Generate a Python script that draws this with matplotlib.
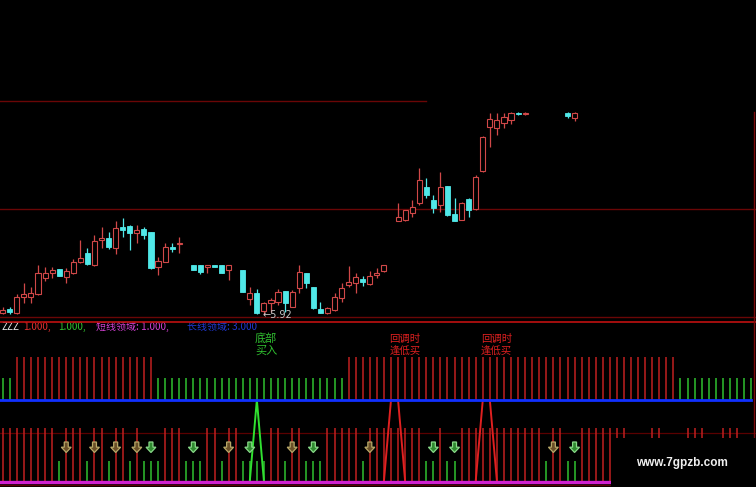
import matplotlib
matplotlib.use("Agg")
import matplotlib.pyplot as plt
from matplotlib.patches import Rectangle, Polygon
from matplotlib.lines import Line2D
import numpy as np

# ---------------- data ----------------
nan = np.nan
# candle OHLC (index = trading day), NaN where no candle is visible
opens = [5.94, 5.98, 5.94, 6.10, 6.10, 6.13, 6.29, 6.34, 6.38, 6.30,
         6.34, 6.45, 6.54, 6.42, 6.67, 6.69, 6.59, 6.80, 6.81, 6.74,
         6.78, 6.75, 6.40, 6.45, 6.60, 6.63, nan, 6.42, 6.42, 6.40,
         6.42, 6.42, 6.37, nan, 6.37, 6.08, 6.14, 5.96, 6.04, 6.05,
         6.16, 6.00, 6.19, 6.34, 6.20, 5.98, 5.94, 5.97, 6.09, 6.22,
         6.24, 6.28, 6.23, 6.32, 6.36, nan, 6.86, 6.87, 6.94, 7.04,
         7.20, 7.07, 7.02, 7.21, 6.93, 6.87, 7.08, 6.98, 7.36, 7.80,
         7.79, 7.84, 7.87, 7.94, 7.93, nan, nan, nan, nan, nan,
         7.94, 7.89]
highs = [6.00, 6.00, 6.13, 6.24, 6.20, 6.42, 6.40, 6.40, 6.38, 6.39,
         6.48, 6.67, 6.59, 6.72, 6.80, 6.75, 6.86, 6.89, 6.82, 6.82,
         6.80, 6.75, 6.50, 6.64, 6.64, 6.70, nan, 6.42, 6.42, 6.42,
         6.42, 6.42, 6.42, nan, 6.37, 6.20, 6.18, 6.05, 6.09, 6.18,
         6.16, 6.17, 6.42, 6.34, 6.20, 6.05, 6.00, 6.14, 6.24, 6.41,
         6.34, 6.31, 6.36, 6.39, 6.42, nan, 7.04, 6.97, 7.07, 7.39,
         7.29, 7.12, 7.35, 7.21, 7.09, 7.05, 7.09, 7.32, 7.71, 7.94,
         7.94, 7.94, 7.95, 7.95, 7.95, nan, nan, nan, nan, nan,
         7.95, 7.95]
lows = [5.93, 5.93, 5.93, 6.04, 6.04, 6.12, 6.26, 6.29, 6.31, 6.24,
        6.33, 6.44, 6.42, 6.41, 6.59, 6.58, 6.53, 6.70, 6.57, 6.64,
        6.68, 6.38, 6.32, 6.45, 6.55, 6.54, nan, 6.37, 6.33, 6.34,
        6.40, 6.34, 6.27, nan, 6.15, 6.02, 5.93, 5.92, 5.95, 6.02,
        5.95, 6.00, 6.14, 6.19, 5.98, 5.94, 5.93, 5.96, 6.05, 6.20,
        6.14, 6.21, 6.22, 6.29, 6.35, nan, 6.86, 6.86, 6.90, 7.02,
        7.09, 6.94, 6.95, 6.91, 6.86, 6.87, 6.90, 6.97, 7.35, 7.60,
        7.72, 7.79, 7.83, 7.92, 7.92, nan, nan, nan, nan, nan,
        7.89, 7.86]
closes = [5.97, 5.95, 6.10, 6.13, 6.14, 6.34, 6.34, 6.37, 6.31, 6.36,
          6.45, 6.49, 6.43, 6.66, 6.69, 6.60, 6.79, 6.77, 6.74, 6.77,
          6.72, 6.39, 6.46, 6.60, 6.58, 6.64, nan, 6.37, 6.35, 6.42,
          6.40, 6.34, 6.42, nan, 6.15, 6.14, 5.94, 6.04, 6.07, 6.15,
          6.04, 6.15, 6.35, 6.24, 5.99, 5.94, 5.99, 6.10, 6.19, 6.25,
          6.30, 6.25, 6.31, 6.34, 6.42, nan, 6.90, 6.97, 7.00, 7.27,
          7.12, 6.99, 7.20, 6.92, 6.86, 7.04, 6.97, 7.30, 7.70, 7.88,
          7.87, 7.90, 7.94, 7.93, 7.94, nan, nan, nan, nan, nan,
          7.91, 7.94]

level_prices = [8.06, 6.98, 5.90]          # horizontal reference lines

# indicator sticks: R = red (long), G = green (short)
upper_state = "GG" + "R" * 20 + "G" * 27 + "R" * 47 + "G" * 11
lower_state = ("RRRRRRRR" "G" "RRR" "G" "RR" "G" "RR" "G" "R" "GGG" "RRR" "GGG"
               "RR" "G" "RR" "GGGG" "RR" "G" "RR" "GGG" "RRRRR" "G" "RRRRRRRR"
               "GG" "R" "GG" "RRRRRRRRRRRR" "G" "RR" "GG" "RRRRRRR" "GGG" "RR"
               "GGG" "RRR" "GG" "RRR" "GG")
arrow_idx = [9, 13, 16, 19, 21, 27, 32, 35, 41, 44, 52, 61, 64, 78, 81]
bottom_buy_idx = [36]                    # 底部买入 signal (single peak)
pullback_spans = [(55, 56), (68, 69)]    # 回调时逢低买 signal

header_parts = [("ZZZ", "#e8e8e8"), ("1.000,", "#e03030"), ("1.000,", "#30c030"),
                ("短线领域: 1.000,", "#d040d0"), ("长线领域: 3.000", "#2038d0")]
header_x_px = [1, 23, 58, 96, 187]

# ---------------- figure ----------------
W, H = 756, 487
fig = plt.figure(figsize=(W / 100, H / 100), dpi=100, facecolor="black")
plt.rcParams["font.family"] = ["Noto Sans CJK SC", "DejaVu Sans"]

n_bars = len(upper_state)
x0 = -2.7 / 7.06
x1 = (W - 2.7) / 7.06
split_px = 322

ax = fig.add_axes([0, (H - split_px) / H, 1, split_px / H])
ax.set_facecolor("black")
ax.set_xlim(x0, x1)
ax.set_ylim(5.85, 9.07)
ax.axis("off")

bx = fig.add_axes([0, 0, 1, (H - split_px) / H])
bx.set_facecolor("black")
bx.set_xlim(x0, x1)
bx.set_ylim(0, 16.5)
bx.axis("off")

UP = "#d04848"
DN = "#50e8e8"

# reference levels
ax.axhline(level_prices[0], xmin=0, xmax=426 / W, color="#6a0606", lw=1.0)
ax.axhline(level_prices[1], color="#6a0606", lw=1.0)
ax.axhline(level_prices[2], color="#6a0606", lw=1.0)

# candles
bw = 0.72
for i in range(len(opens)):
    o, h, l, c = opens[i], highs[i], lows[i], closes[i]
    if np.isnan(o):
        continue
    up = c >= o
    col = UP if up else DN
    ax.vlines(i, l, h, color=col, lw=0.9, zorder=2)
    lo, hi = min(o, c), max(o, c)
    hgt = max(hi - lo, 0.006)
    if up:
        ax.add_patch(Rectangle((i - bw / 2, lo), bw, hgt, facecolor="black",
                               edgecolor=col, lw=0.8, zorder=3))
    else:
        ax.add_patch(Rectangle((i - bw / 2, lo), bw, hgt, facecolor=col,
                               edgecolor=col, lw=0.6, zorder=3))

# lowest price label
lows_arr = np.array(lows, dtype=float)
imin = int(np.nanargmin(lows_arr))
ax.text(imin - 0.2, lows_arr[imin], "\u2190" + f"{lows_arr[imin]:.2f}", color="#c8c8c8",
        fontsize=7, family="DejaVu Sans", ha="left", va="center", zorder=5)

# ---------------- indicator panel ----------------
RED = "#c02020"
GRN = "#30c030"
idx = np.arange(n_bars)
BLUE_Y = 8.7
for i, s in enumerate(upper_state):
    top = 13.0 if s == "R" else 10.9
    bx.vlines(i, BLUE_Y, top, color=RED if s == "R" else GRN, lw=1.1, zorder=2)
for i, s in enumerate(lower_state):
    top = 5.9 if s == "R" else 2.65
    bx.vlines(i, 0.6, top, color=RED if s == "R" else GRN, lw=1.1, zorder=2)

bx.axhline(5.43, color="#5a0000", lw=0.9, zorder=1)
bx.axhline(0.2, color="#5a0000", lw=1.0, zorder=1)
bx.axhline(BLUE_Y, xmin=0, xmax=751 / W, color="#1030ff", lw=2.0, zorder=4)
bx.axhline(0.55, color="#d020d0", lw=2.4, zorder=4)

# signal shapes
for p in bottom_buy_idx:
    bx.plot([p - 1, p, p + 1], [0.6, BLUE_Y, 0.6], color="#30e030", lw=1.4, zorder=3)
    bx.text(p - 0.25, 14.85, "底部", color="#30c030", fontsize=8, ha="left", va="center")
    bx.text(p - 0.25, 13.6, "买入", color="#30c030", fontsize=8, ha="left", va="center")
for a, b in pullback_spans:
    bx.plot([a - 1, a, b, b + 1], [0.6, BLUE_Y, BLUE_Y, 0.6], color="#e02020", lw=1.4, zorder=3)
    bx.text(a - 0.25, 14.85, "回调时", color="#e02020", fontsize=7.5, ha="left", va="center")
    bx.text(a - 0.25, 13.6, "逢低买", color="#e02020", fontsize=7.5, ha="left", va="center")

# arrows
for i in arrow_idx:
    red_under = lower_state[i] == "R"
    ec = "#b8a868" if red_under else "#88d888"
    fc = "#6a5028" if red_under else "#2f8a2f"
    cy = 4.0
    verts = [(i - 0.28, cy + 0.5), (i + 0.28, cy + 0.5), (i + 0.28, cy - 0.02),
             (i + 0.7, cy - 0.02), (i, cy - 0.55), (i - 0.7, cy - 0.02),
             (i - 0.28, cy - 0.02)]
    bx.add_patch(Polygon(verts, closed=True, facecolor=fc, edgecolor=ec, lw=0.9, zorder=5))

# header
for (txt, col), xp in zip(header_parts, header_x_px):
    bx.text(xp / W, 16.0 / 16.5, txt, transform=bx.transAxes, color=col,
            fontsize=7.2, ha="left", va="center")

# panel separator and right border
fig.add_artist(Line2D([0, 1], [(H - 322) / H] * 2, color="#c01010", lw=1.2))
fig.add_artist(Line2D([754 / W] * 2, [(H - 438) / H, (H - 112) / H], color="#7a0a0a", lw=1.0))

# watermark
fig.add_artist(Rectangle((611 / W, 0), (W - 611) / W, 49 / H, transform=fig.transFigure,
                         facecolor="black", edgecolor="none", zorder=10))
fig.text(682 / W, (H - 463) / H, "www.7gpzb.com", color="#f0f0f0", fontsize=8.5,
         family="Liberation Sans", weight="bold", ha="center", va="center", zorder=11)

fig.savefig("out.png", dpi=100, facecolor="black")
